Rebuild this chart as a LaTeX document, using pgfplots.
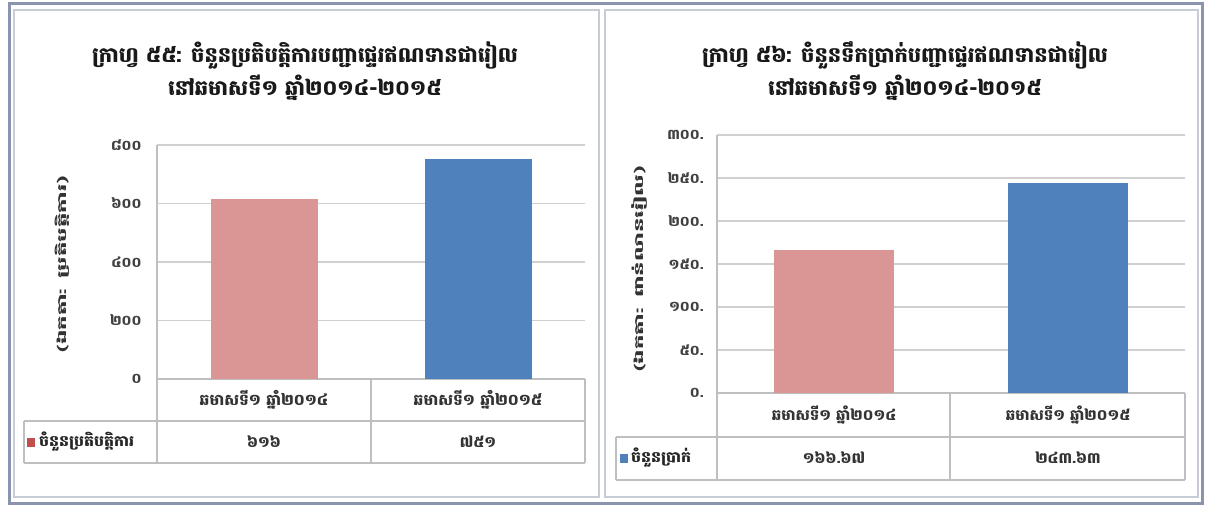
\documentclass[border=0pt]{standalone}
\usepackage{fontspec}
\usepackage{graphicx}
\usepackage{pgfplots}
\pgfplotsset{compat=1.18}
\setmainfont{Liberation Sans}
\newfontfamily\khmer[Script=Khmer]{Battambang}
\definecolor{pinkbar}{HTML}{D99694}
\definecolor{bluebar}{HTML}{4F81BD}
\definecolor{redkey}{HTML}{C0504D}
\definecolor{gridc}{HTML}{D0D0D0}
\definecolor{tabc}{HTML}{BFBFBF}
\definecolor{framec}{HTML}{8A94AC}
\definecolor{panelc}{HTML}{C8CCD6}
\begin{document}
\begin{tikzpicture}[x=1pt,y=1pt]
\fill[white] (0,0) rectangle (1207,507);
\draw[framec, line width=3pt] (9,4) rectangle (1202,503);
\draw[panelc, line width=1.2pt] (14,10) rectangle (599,497);
\draw[panelc, line width=1.2pt] (605,10) rectangle (1198,497);
% titles
\node[font=\khmer\bfseries\fontsize{21}{33}\selectfont, align=center, text=black!90] at (305,436) {ក្រាហ្វ ៥៥: ចំនួនប្រតិបត្តិការបញ្ជាផ្ទេរឥណទានជារៀល\\នៅឆមាសទី១ ឆ្នាំ២០១៤-២០១៥};
\node[font=\khmer\bfseries\fontsize{21}{33}\selectfont, align=center, text=black!90] at (905,436) {ក្រាហ្វ ៥៦: ចំនួនទឹកប្រាក់បញ្ជាផ្ទេរឥណទានជារៀល\\នៅឆមាសទី១ ឆ្នាំ២០១៤-២០១៥};

% ---------- left chart ----------
\begin{axis}[
  at={(157pt,128pt)}, anchor=south west,
  scale only axis, width=428pt, height=234pt,
  xmin=-0.5, xmax=1.5, ymin=0, ymax=800,
  ytick={0,200,400,600,800},
  yticklabels={០,២០០,៤០០,៦០០,៨០០},
  xtick={0,1},
  xticklabels={ឆមាសទី១ ឆ្នាំ២០១៤,ឆមាសទី១ ឆ្នាំ២០១៥},
  ymajorgrids, grid style={gridc, line width=1.5pt},
  axis x line*=bottom, axis y line*=left,
  axis line style={tabc, line width=1.2pt, -},
  major tick length=0pt,
  ybar, bar width=0.5, bar shift=0pt,
  clip=false,
  yticklabel style={font=\khmer\bfseries\fontsize{14}{16}\selectfont, text=black!75, xshift=-12pt},
  xticklabel style={font=\khmer\bfseries\fontsize{15.5}{17}\selectfont, text=black!80, anchor=center, yshift=-21pt},
  ylabel={\scalebox{1.9}[1]{(ឯកតា: ប្រតិបត្តិការ)}},
  ylabel style={font=\khmer\bfseries\fontsize{12}{14}\selectfont, text=black!80, at={(axis description cs:-0.222,0.49)}, anchor=center},
]
\addplot[fill=pinkbar, draw=none] coordinates {(0,616)};
\addplot[fill=bluebar, draw=none] coordinates {(1,751)};
\node[font=\khmer\bfseries\fontsize{15}{17}\selectfont, text=black!80] at (axis cs:0,0) [yshift=-63pt] {៦១៦};
\node[font=\khmer\bfseries\fontsize{15}{17}\selectfont, text=black!80] at (axis cs:1,0) [yshift=-63pt] {៧៥១};
\end{axis}
% left data table
\draw[tabc, line width=1.2pt] (24,86) -- (585,86);
\draw[tabc, line width=1.2pt] (24,44) -- (585,44);
\draw[tabc, line width=1.2pt] (24,44) -- (24,86);
\draw[tabc, line width=1.2pt] (157,44) -- (157,128);
\draw[tabc, line width=1.2pt] (371,44) -- (371,128);
\draw[tabc, line width=1.2pt] (585,44) -- (585,128);
\fill[redkey] (27,60) rectangle (35,69);
\node[font=\khmer\bfseries\fontsize{15}{17}\selectfont, anchor=west, inner sep=0pt, text=black!85] at (39,65) {\scalebox{1.05}[1]{ចំនួនប្រតិបត្តិការ}};

% ---------- right chart ----------
\begin{axis}[
  at={(717pt,114pt)}, anchor=south west,
  scale only axis, width=468pt, height=258pt,
  xmin=-0.5, xmax=1.5, ymin=0, ymax=300,
  ytick={0,50,100,150,200,250,300},
  yticklabels={០.,៥០.,១០០.,១៥០.,២០០.,២៥០.,៣០០.},
  xtick={0,1},
  xticklabels={ឆមាសទី១ ឆ្នាំ២០១៤,ឆមាសទី១ ឆ្នាំ២០១៥},
  ymajorgrids, grid style={gridc, line width=1.5pt},
  axis x line*=bottom, axis y line*=left,
  axis line style={tabc, line width=1.2pt, -},
  major tick length=0pt,
  ybar, bar width=0.51, bar shift=0pt,
  clip=false,
  yticklabel style={font=\khmer\bfseries\fontsize{14}{16}\selectfont, text=black!75, xshift=-10pt},
  xticklabel style={font=\khmer\bfseries\fontsize{15}{17}\selectfont, text=black!80, anchor=center, yshift=-22pt},
  ylabel={\scalebox{1.9}[1]{(ឯកតា: ពាន់លានរៀល)}},
  ylabel style={font=\khmer\bfseries\fontsize{12}{14}\selectfont, text=black!80, at={(axis description cs:-0.165,0.48)}, anchor=center},
]
\addplot[fill=pinkbar, draw=none] coordinates {(0,166.67)};
\addplot[fill=bluebar, draw=none] coordinates {(1,243.63)};
\node[font=\khmer\bfseries\fontsize{15}{17}\selectfont, text=black!80] at (axis cs:0,0) [yshift=-65pt] {១៦៦.៦៧};
\node[font=\khmer\bfseries\fontsize{15}{17}\selectfont, text=black!80] at (axis cs:1,0) [yshift=-65pt] {២៤៣.៦៣};
\end{axis}
% right data table
\draw[tabc, line width=1.2pt] (616,70) -- (1185,70);
\draw[tabc, line width=1.2pt] (616,27) -- (1185,27);
\draw[tabc, line width=1.2pt] (616,27) -- (616,70);
\draw[tabc, line width=1.2pt] (717,27) -- (717,114);
\draw[tabc, line width=1.2pt] (950,27) -- (950,114);
\draw[tabc, line width=1.2pt] (1185,27) -- (1185,114);
\fill[bluebar] (620,44) rectangle (628,53);
\node[font=\khmer\bfseries\fontsize{15}{17}\selectfont, anchor=west, inner sep=0pt, text=black!85] at (631,49) {\scalebox{1.05}[1]{ចំនួនប្រាក់}};
\end{tikzpicture}
\end{document}
